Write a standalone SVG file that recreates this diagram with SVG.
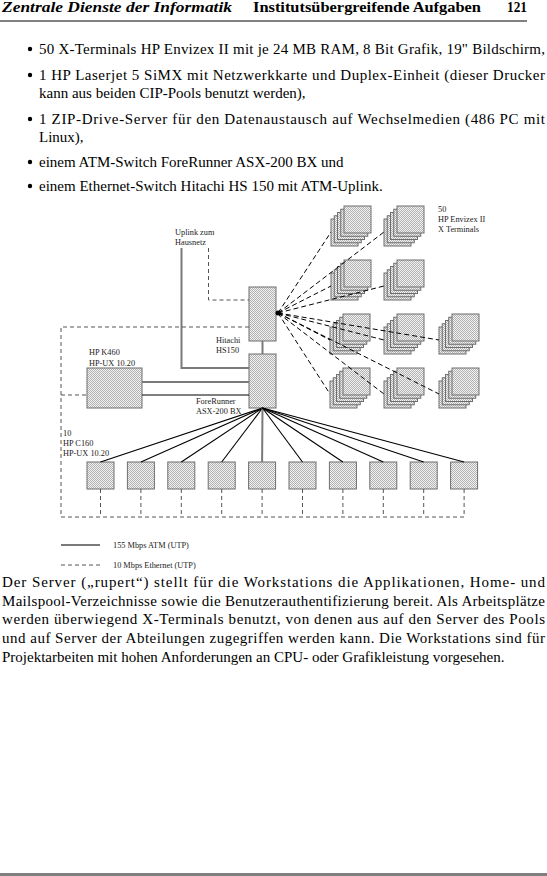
<svg xmlns="http://www.w3.org/2000/svg" width="547" height="876" viewBox="0 0 547 876">
<style>
.hd{font-family:"Liberation Serif","DejaVu Serif",serif;font-size:15px;font-weight:bold;fill:#000}
.tx{font-family:"Liberation Serif","DejaVu Serif",serif;font-size:15px;fill:#000}
.sm{font-family:"Liberation Serif","DejaVu Serif",serif;font-size:8.3px;fill:#222}
.box{fill:url(#dither);stroke:#6e6e6e;stroke-width:1}
.atm{stroke:#7a7a7a;stroke-width:2;fill:none}
.thin{stroke:#000;stroke-width:1.1;fill:none}
.eth{stroke:#555;stroke-width:1;stroke-dasharray:4 3;fill:none}
.xl{stroke:#000;stroke-width:1;stroke-dasharray:5 3;fill:none}
</style>
<defs>
<pattern id="dither" width="2" height="2" patternUnits="userSpaceOnUse">
<rect width="2" height="2" fill="#f2f2f2"/>
<rect width="1" height="1" fill="#b2b2b2"/>
<rect x="1" y="1" width="1" height="1" fill="#b2b2b2"/>
</pattern>
<g id="stack">
<rect class="box" x="-13" y="13" width="27" height="27"/>
<rect class="box" x="-9.75" y="9.75" width="27" height="27"/>
<rect class="box" x="-6.5" y="6.5" width="27" height="27"/>
<rect class="box" x="-3.25" y="3.25" width="27" height="27"/>
<rect class="box" x="0" y="0" width="27" height="27"/>
</g>
</defs>
<rect width="547" height="876" fill="#fff"/>

<!-- header -->
<g id="header">
<text class="hd" x="2" y="12" font-style="italic" textLength="230" lengthAdjust="spacingAndGlyphs">Zentrale Dienste der Informatik</text>
<text class="hd" x="253" y="12" textLength="228" lengthAdjust="spacingAndGlyphs">Institutsübergreifende Aufgaben</text>
<text class="hd" x="507" y="12" font-weight="normal" textLength="20" lengthAdjust="spacingAndGlyphs">121</text>
<line x1="0" y1="21" x2="527" y2="21" stroke="#000" stroke-width="1"/>
</g>

<!-- bullet list -->
<g id="bullets">
<circle cx="30" cy="49" r="2.2"/>
<text class="tx" x="39" y="53.5" textLength="506" lengthAdjust="spacing">50 X-Terminals HP Envizex II mit je 24 MB RAM, 8 Bit Grafik, 19" Bildschirm,</text>
<circle cx="30" cy="75" r="2.2"/>
<text class="tx" x="39" y="79.5" textLength="506" lengthAdjust="spacing">1 HP Laserjet 5 SiMX mit Netzwerkkarte und Duplex-Einheit (dieser Drucker</text>
<text class="tx" x="39" y="97.5">kann aus beiden CIP-Pools benutzt werden),</text>
<circle cx="30" cy="119" r="2.2"/>
<text class="tx" x="39" y="123.5" textLength="506" lengthAdjust="spacing">1 ZIP-Drive-Server für den Datenaustausch auf Wechselmedien (486 PC mit</text>
<text class="tx" x="39" y="141.5">Linux),</text>
<circle cx="30" cy="162" r="2.2"/>
<text class="tx" x="39" y="166.5">einem ATM-Switch ForeRunner ASX-200 BX und</text>
<circle cx="30" cy="186" r="2.2"/>
<text class="tx" x="39" y="190.5">einem Ethernet-Switch Hitachi HS 150 mit ATM-Uplink.</text>
</g>

<!-- diagram nodes -->
<g id="uplink-label">
<text class="sm" x="175" y="235">Uplink zum</text>
<text class="sm" x="175" y="245">Hausnetz</text>
</g>
<g id="hitachi">
<rect class="box" x="249" y="287" width="27" height="54"/>
<text class="sm" x="216" y="343">Hitachi</text>
<text class="sm" x="216" y="353">HS150</text>
</g>
<g id="forerunner">
<rect class="box" x="249" y="354" width="27" height="54"/>
<text class="sm" x="196" y="404">ForeRunner</text>
<text class="sm" x="196" y="414">ASX-200 BX</text>
</g>
<g id="k460">
<rect class="box" x="87" y="368" width="55" height="40"/>
<text class="sm" x="89" y="355">HP K460</text>
<text class="sm" x="89" y="366">HP-UX 10.20</text>
</g>
<g id="c160-label">
<text class="sm" x="63" y="436">10</text>
<text class="sm" x="63" y="446">HP C160</text>
<text class="sm" x="63" y="456">HP-UX 10.20</text>
</g>
<g id="workstations">
<rect class="box" x="87" y="462" width="27" height="27"/>
<rect class="box" x="127.4" y="462" width="27" height="27"/>
<rect class="box" x="167.8" y="462" width="27" height="27"/>
<rect class="box" x="208.2" y="462" width="27" height="27"/>
<rect class="box" x="248.6" y="462" width="27" height="27"/>
<rect class="box" x="289" y="462" width="27" height="27"/>
<rect class="box" x="329.4" y="462" width="27" height="27"/>
<rect class="box" x="369.8" y="462" width="27" height="27"/>
<rect class="box" x="410.2" y="462" width="27" height="27"/>
<rect class="box" x="450.6" y="462" width="27" height="27"/>
</g>
<g id="xterminals">
<use href="#stack" x="344" y="206"/>
<use href="#stack" x="397" y="206"/>
<use href="#stack" x="344" y="260"/>
<use href="#stack" x="397" y="260"/>
<use href="#stack" x="343" y="314"/>
<use href="#stack" x="397" y="314"/>
<use href="#stack" x="452" y="314"/>
<use href="#stack" x="343" y="368"/>
<use href="#stack" x="397" y="368"/>
<use href="#stack" x="452" y="368"/>
<text class="sm" x="438" y="212">50</text>
<text class="sm" x="438" y="222">HP Envizex II</text>
<text class="sm" x="438" y="232">X Terminals</text>
</g>

<!-- connectors -->
<g id="connectors">
<polyline class="atm" points="181.5,248 181.5,368 249,368"/>
<polyline class="eth" points="208.5,248 208.5,300 249,300"/>
<polyline class="eth" points="249,327 61,327 61,517 464,517"/>
<line class="eth" x1="61" y1="395" x2="87" y2="395"/>
<line class="atm" x1="262.5" y1="341" x2="262.5" y2="354"/>
<line class="atm" x1="142" y1="382" x2="249" y2="382"/>
<line class="thin" x1="142" y1="395" x2="249" y2="395"/>
<line class="thin" x1="262.5" y1="408" x2="100.5" y2="462"/>
<line class="thin" x1="262.5" y1="408" x2="140.9" y2="462"/>
<line class="thin" x1="262.5" y1="408" x2="181.3" y2="462"/>
<line class="thin" x1="262.5" y1="408" x2="221.7" y2="462"/>
<line class="atm" x1="262.5" y1="408" x2="262.1" y2="462"/>
<line class="thin" x1="262.5" y1="408" x2="302.5" y2="462"/>
<line class="thin" x1="262.5" y1="408" x2="342.9" y2="462"/>
<line class="thin" x1="262.5" y1="408" x2="383.3" y2="462"/>
<line class="thin" x1="262.5" y1="408" x2="423.7" y2="462"/>
<line class="thin" x1="262.5" y1="408" x2="464.1" y2="462"/>
<line class="eth" x1="100.5" y1="489" x2="100.5" y2="517"/>
<line class="eth" x1="140.9" y1="489" x2="140.9" y2="517"/>
<line class="eth" x1="181.3" y1="489" x2="181.3" y2="517"/>
<line class="eth" x1="221.7" y1="489" x2="221.7" y2="517"/>
<line class="eth" x1="262.1" y1="489" x2="262.1" y2="517"/>
<line class="eth" x1="302.5" y1="489" x2="302.5" y2="517"/>
<line class="eth" x1="342.9" y1="489" x2="342.9" y2="517"/>
<line class="eth" x1="383.3" y1="489" x2="383.3" y2="517"/>
<line class="eth" x1="423.7" y1="489" x2="423.7" y2="517"/>
<line class="eth" x1="464.1" y1="489" x2="464.1" y2="517"/>
<line class="xl" x1="278" y1="313" x2="331" y2="232"/>
<line class="xl" x1="278" y1="313" x2="384" y2="232"/>
<line class="xl" x1="278" y1="313" x2="331" y2="286"/>
<line class="xl" x1="278" y1="313" x2="384" y2="286"/>
<line class="xl" x1="278" y1="313" x2="330" y2="340"/>
<line class="xl" x1="278" y1="313" x2="384" y2="340"/>
<line class="xl" x1="278" y1="313" x2="439" y2="340"/>
<line class="xl" x1="278" y1="313" x2="330" y2="394"/>
<line class="xl" x1="278" y1="313" x2="384" y2="394"/>
<line class="xl" x1="278" y1="313" x2="439" y2="394"/>
<circle cx="278" cy="313" r="2.5" fill="#000"/>
</g>

<!-- legend -->
<g id="legend">
<line class="atm" x1="61" y1="545" x2="100" y2="545"/>
<text class="sm" x="113" y="548">155 Mbps ATM  (UTP)</text>
<line class="eth" x1="61" y1="565" x2="100" y2="565" stroke-width="1.5"/>
<text class="sm" x="113" y="568">10 Mbps Ethernet  (UTP)</text>
</g>

<!-- paragraph -->
<g id="paragraph">
<text class="tx" x="2" y="587" textLength="543" lengthAdjust="spacing">Der Server („rupert“) stellt für die Workstations die Applikationen, Home- und</text>
<text class="tx" x="2" y="606" textLength="543" lengthAdjust="spacing">Mailspool-Verzeichnisse sowie die Benutzerauthentifizierung bereit. Als Arbeitsplätze</text>
<text class="tx" x="2" y="624" textLength="543" lengthAdjust="spacing">werden überwiegend X-Terminals benutzt, von denen aus auf den Server des Pools</text>
<text class="tx" x="2" y="643" textLength="543" lengthAdjust="spacing">und auf Server der Abteilungen zugegriffen werden kann. Die Workstations sind für</text>
<text class="tx" x="2" y="662">Projektarbeiten mit hohen Anforderungen an CPU- oder Grafikleistung vorgesehen.</text>
</g>

<rect x="0" y="873" width="547" height="3" fill="#808080"/>
</svg>
